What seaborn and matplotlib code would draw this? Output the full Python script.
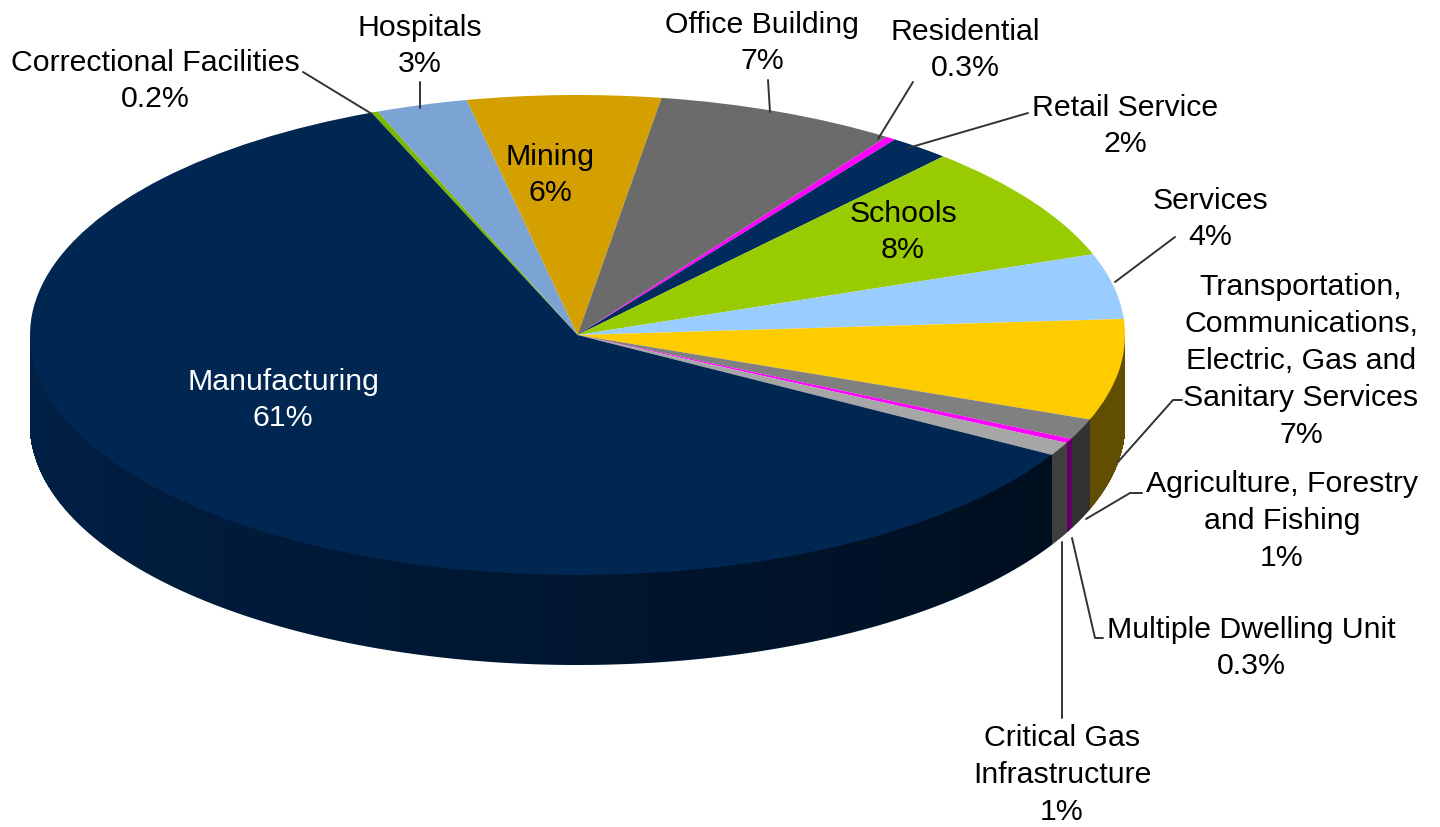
import numpy as np
import matplotlib.pyplot as plt
import matplotlib.colors as mcolors
from matplotlib.collections import PolyCollection
from matplotlib.patches import Polygon
import seaborn as sns

# Slices in clockwise order, starting at the top just right of Manufacturing
categories = ['Correctional Facilities', 'Hospitals', 'Mining', 'Office Building',
              'Residential', 'Retail Service', 'Schools', 'Services',
              'Transportation,\nCommunications,\nElectric, Gas and\nSanitary Services',
              'Agriculture, Forestry\nand Fishing', 'Multiple Dwelling Unit',
              'Critical Gas\nInfrastructure', 'Manufacturing']
shares = [0.2, 2.7, 5.7, 7.1, 0.3, 1.8, 7.9, 4.4, 6.8, 1.4, 0.3, 0.9, 60.6]
pct_labels = ['0.2%', '3%', '6%', '7%', '0.3%', '2%', '8%', '4%', '7%', '1%', '0.3%', '1%', '61%']
colors = ['#7AB800', '#7BA4D4', '#D4A000', '#6B6B6B', '#FF00FF', '#002B5C',
          '#99CC00', '#99CCFF', '#FFCC00', '#808080', '#FF00FF', '#A6A6A6', '#002652']

# layout (pixel positions of labels and leader lines)
label_pos = [(155, 81), (420, 46), (550, 175), (762, 43), (965, 50), (1125, 126),
             (903, 232), (1210, 219), (1301, 361), (1282, 521), (1251, 648),
             (1062, 775), (283, 400)]
leaders = {
    0: [(303, 72), (372, 114)],
    1: [(420, 82), (420, 108)],
    3: [(768, 80), (770, 112)],
    4: [(913, 82), (878, 139)],
    5: [(1028, 113), (908, 148)],
    7: [(1175, 237), (1115, 282)],
    8: [(1182, 400), (1173, 400), (1118, 462)],
    9: [(1142, 493), (1130, 493), (1086, 519)],
    10: [(1103, 638), (1095, 638), (1072, 538)],
    11: [(1062, 718), (1062, 542)],
}

CX, CY, RX, RY = 577.5, 335, 547.5, 240
DEPTH = 90 / RY


def px(x, y):
    return (x - CX) / RX, (CY - y) / RY


def shade(m):
    return max(0.38, 0.88 - 0.5 * (m - 180) / 150)


sns.set_theme(style='white')
plt.rcParams['font.family'] = ['Liberation Sans', 'DejaVu Sans']

fig = plt.figure(figsize=(14.4, 8.27), dpi=100)
ax = fig.add_axes([0, 0, 1, 1])

wedges, _ = ax.pie(shares, colors=colors, startangle=112.1, counterclock=False,
                   radius=1, wedgeprops=dict(linewidth=0, zorder=3))
ax.set_aspect('auto')
ax.set_xlim(px(0, 0)[0], px(1440, 0)[0])
ax.set_ylim(px(0, 827)[1], px(0, 0)[1])
ax.axis('off')

# side wall of the disc, shaded darker towards the right
polys, fcs = [], []
for w, c in zip(wedges, colors):
    t1, t2 = w.theta1, w.theta2
    n = max(2, int(np.ceil((t2 - t1) / 0.5)))
    ts = np.linspace(t1, t2, n + 1)
    base = np.array(mcolors.to_rgb(c))
    vis = [t for t in ts if np.sin(np.radians(t)) <= 1e-9]
    if len(vis) >= 2:
        r = np.radians(vis)
        outline = list(zip(np.cos(r), np.sin(r))) + list(zip(np.cos(r[::-1]), np.sin(r[::-1]) - DEPTH))
        mid = np.mean(np.array(vis) % 360)
        ax.add_patch(Polygon(outline, closed=True, facecolor=base * shade(mid),
                             edgecolor='none', zorder=1.5))
    for a, b in zip(ts[:-1], ts[1:]):
        m = ((a + b) / 2) % 360
        if m <= 180:
            continue
        ra, rb = np.radians(a), np.radians(b)
        d = DEPTH - 0.006
        polys.append([(np.cos(ra), np.sin(ra)), (np.cos(rb), np.sin(rb)),
                      (np.cos(rb), np.sin(rb) - d), (np.cos(ra), np.sin(ra) - d)])
        fcs.append(tuple(base * shade(m)))
ax.add_collection(PolyCollection(polys, facecolors=fcs, edgecolors='none',
                                 antialiaseds=False, zorder=2))

# labels
for i, (name, pct) in enumerate(zip(categories, pct_labels)):
    x, y = px(*label_pos[i])
    ax.text(x, y, f'{name}\n{pct}', ha='center', va='center', fontsize=21.8,
            linespacing=1.4, color='white' if i == 12 else 'black', zorder=5)

for i, pts in leaders.items():
    xy = np.array([px(*p) for p in pts])
    ax.plot(xy[:, 0], xy[:, 1], color='#333333', lw=1.4, zorder=4)

fig.savefig('out.png', dpi=100)
